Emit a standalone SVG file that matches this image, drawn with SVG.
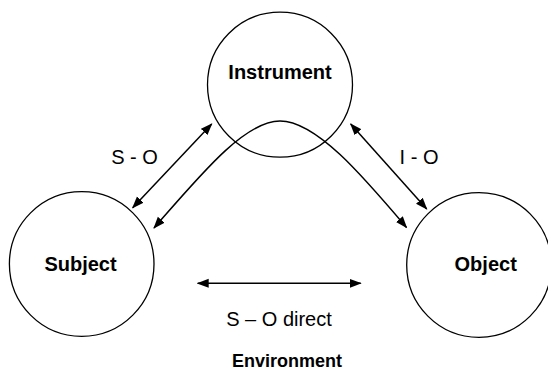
<svg xmlns="http://www.w3.org/2000/svg" width="548" height="381" viewBox="0 0 548 381">
<style>
.node{fill:#fff;stroke:#000;stroke-width:1.3}
.lbl{font-family:"Liberation Sans",Arial,sans-serif;font-size:20px;font-weight:bold;text-anchor:middle;fill:#000}
.txt{font-family:"Liberation Sans",Arial,sans-serif;font-size:20px;text-anchor:middle;fill:#000}
.conn{fill:none;stroke:#000;stroke-width:1.5;marker-start:url(#ah);marker-end:url(#ah)}
</style>
<defs>
<marker id="ah" markerUnits="userSpaceOnUse" markerWidth="12" markerHeight="10" viewBox="0 0 12 10" refX="11" refY="5" orient="auto-start-reverse">
<path d="M0,0.5 L12,5 L0,9.5 z" fill="#000"/>
</marker>
</defs>
<rect width="548" height="381" fill="#fff"/>
<g id="instrument">
<circle class="node" cx="280" cy="84.7" r="72.5"/>
<text class="lbl" x="280" y="79">Instrument</text>
</g>
<g id="subject">
<circle class="node" cx="81.7" cy="264" r="72.3"/>
<text class="lbl" x="80.5" y="271">Subject</text>
</g>
<g id="object">
<circle class="node" cx="479" cy="265" r="72.3"/>
<text class="lbl" x="485.7" y="271">Object</text>
</g>
<g id="connectors">
<line class="conn" x1="211.7" y1="124" x2="132.7" y2="207.7"/>
<line class="conn" x1="350.7" y1="124" x2="426.7" y2="209"/>
<line class="conn" x1="197.7" y1="283.3" x2="360.7" y2="283.3"/>
<path class="conn" d="M154,228 C202,173 245,121 280,121 C316,121 362,175 406.5,227.5"/>
</g>
<g id="labels">
<text class="txt" x="134.5" y="164">S - O</text>
<text class="txt" x="419" y="164">I - O</text>
<text class="txt" x="279" y="326">S – O direct</text>
<text class="lbl" x="287" y="367" style="font-size:18px">Environment</text>
</g>
</svg>
